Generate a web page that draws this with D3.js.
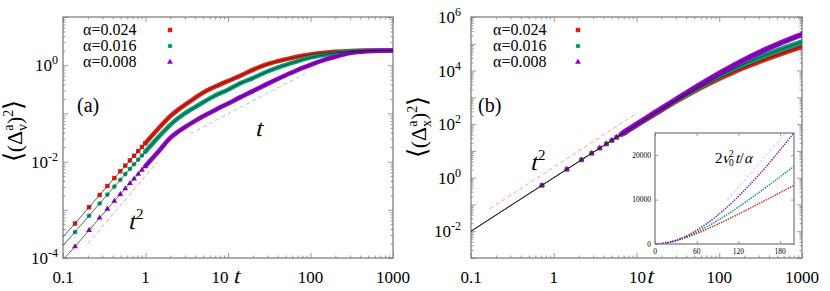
<!DOCTYPE html>
<html>
<head>
<meta charset="utf-8">
<script src="https://cdn.jsdelivr.net/npm/d3@7"></script>
<style>
body{margin:0;background:#fff}
svg{display:block}
</style>
</head>
<body>
<svg width="830" height="291"></svg>
<script>
// ---------- data ----------
var alphaLabels = ['α=0.024', 'α=0.016', 'α=0.008'];

// panel (a): velocity increments, early single markers
var tMarkV = [0.14, 0.207, 0.278, 0.345, 0.419, 0.495, 0.569, 0.648, 0.727, 0.817, 0.905, 0.994];
var redMarkV = [5.2e-4, 1.13e-3, 2.03e-3, 3.11e-3, 4.55e-3, 6.3e-3, 8.26e-3, 1.06e-2, 1.32e-2, 1.65e-2, 2.01e-2, 2.4e-2];
var greenMarkV = [3.47e-4, 7.5e-4, 1.35e-3, 2.07e-3, 3.03e-3, 4.2e-3, 5.5e-3, 7.1e-3, 8.8e-3, 1.1e-2, 1.34e-2, 1.6e-2];
var purpleMarkV = [1.73e-4, 3.77e-4, 6.8e-4, 1.04e-3, 1.52e-3, 2.1e-3, 2.75e-3, 3.53e-3, 4.4e-3, 5.5e-3, 6.7e-3, 8.0e-3];

// panel (a): full curves (dense markers + theory line)
var tCurveV = [0.1, 0.14, 0.2, 0.3, 0.5, 0.7, 1, 1.5, 2, 2.5, 3, 4, 5, 7, 10, 14, 20, 30, 45, 60, 80, 100, 150, 200, 300, 500, 700, 1000];
var redV = [2.75e-4, 5.2e-4, 1.06e-3, 2.36e-3, 6.4e-3, 1.23e-2, 2.43e-2, 0.053, 0.088, 0.12, 0.15, 0.21, 0.27, 0.36, 0.47, 0.6, 0.8, 1.05, 1.27, 1.42, 1.57, 1.67, 1.82, 1.9, 1.98, 2.02, 2.03, 2.03];
var greenV = [1.83e-4, 3.47e-4, 7.07e-4, 1.57e-3, 4.27e-3, 8.2e-3, 1.62e-2, 0.035, 0.058, 0.08, 0.1, 0.135, 0.17, 0.235, 0.31, 0.42, 0.54, 0.74, 0.96, 1.12, 1.3, 1.45, 1.65, 1.78, 1.92, 2.0, 2.02, 2.03];
var purpleV = [9.2e-5, 1.73e-4, 3.53e-4, 7.9e-4, 2.13e-3, 4.1e-3, 8.1e-3, 0.0177, 0.031, 0.042, 0.052, 0.07, 0.087, 0.118, 0.16, 0.215, 0.29, 0.41, 0.57, 0.71, 0.88, 1.02, 1.3, 1.5, 1.78, 1.95, 2.0, 2.02];

// panel (a) guide lines
var t2RefT = [0.2, 1.4], t2RefV = [2.0e-4, 9.8e-3];
var tRefT = [3.5, 90], tRefV = [0.038, 0.7];

// panel (b): position displacement, early single markers
var tMarkX = [0.72, 1.44, 2.16, 2.88, 3.6, 4.32, 5.04, 5.76, 6.48, 7.2];
var redMarkX = [0.515, 2.05, 4.59, 8.1, 12.6, 18.0, 24.4, 31.7, 39.8, 48.8];
var greenMarkX = [0.516, 2.058, 4.61, 8.17, 12.71, 18.23, 24.72, 32.16, 40.54, 49.85];
var purpleMarkX = [0.517, 2.065, 4.64, 8.23, 12.83, 18.45, 25.06, 32.67, 41.26, 50.84];

// panel (b): full curves
var tCurveX = [0.1, 0.2, 0.5, 1, 2, 3, 5, 7, 10, 15, 20, 30, 50, 70, 100, 150, 200, 300, 500, 700, 1000];
var redX = [0.01, 0.04, 0.249, 0.992, 3.94, 8.78, 24.0, 46.4, 92.5, 200, 343, 718, 1740, 3008, 5176, 9122, 13223, 21528, 38194, 54861, 79861];
var greenX = [0.01, 0.04, 0.249, 0.995, 3.96, 8.86, 24.35, 47.2, 94.9, 207.6, 359, 772, 1948, 3487, 6265, 11646, 17506, 29751, 54690, 79688, 117188];
var purpleX = [0.01, 0.04, 0.25, 0.997, 3.98, 8.93, 24.67, 48.1, 97.4, 216, 379.5, 830, 2197, 4100, 7790, 15663, 25060, 46585, 94320, 143865, 218760];

// panel (b) guide line and inset asymptote
var x2RefT = [0.17, 9.6], x2RefV = [0.07, 230];
var insetRefT = [104, 188], insetRefV = [9900, 25000];

// tick labels
var xTickVals = [0.1, 1, 10, 100, 1000];
var xTickText = ['0.1', '1', '10', '100', '1000'];
var yExpV = [-4, -2, 0];
var yExpX = [-2, 0, 2, 4, 6];
var insetXTicks = [0, 60, 120, 180];
var insetYTicks = [0, 10000, 20000];

// ---------- drawing ----------
var svg = d3.select('svg');
var red = '#e51e10', green = '#009e73', purple = '#9400d3';
var frameCol = '#808080';

var xV = d3.scaleLog().domain([0.1, 1000]).range([63, 393]);
var yV = d3.scaleLog().domain([1e-4, 10]).range([258, 17]);
var xX = d3.scaleLog().domain([0.1, 1000]).range([471, 802]);
var yX = d3.scaleLog().domain([1e-3, 1e6]).range([258, 17]);
var xI = d3.scaleLinear().domain([0, 200]).range([655, 794]);
var yI = d3.scaleLinear().domain([0, 25000]).range([244, 133]);

function logTicks(lo, hi) {
    var major = [], minor = [];
    for (var e = lo; e <= hi; e++) {
        major.push(Math.pow(10, e));
        if (e < hi) for (var m = 2; m < 10; m++) minor.push(m * Math.pow(10, e));
    }
    return {major: major, minor: minor};
}

// inward ticks on all four sides + grey frame
function frame(x, y, xt, yt, big, small) {
    var g = svg.append('g');
    var xr = x.range(), yr = y.range();
    [[xt.major, big], [xt.minor, small]].forEach(function(s) {
        g.append('g').attr('transform', 'translate(0,' + yr[0] + ')')
            .call(d3.axisBottom(x).tickValues(s[0]).tickSizeInner(-s[1]).tickSizeOuter(0).tickFormat(''));
        g.append('g').attr('transform', 'translate(0,' + yr[1] + ')')
            .call(d3.axisTop(x).tickValues(s[0]).tickSizeInner(-s[1]).tickSizeOuter(0).tickFormat(''));
    });
    [[yt.major, big], [yt.minor, small]].forEach(function(s) {
        g.append('g').attr('transform', 'translate(' + xr[0] + ',0)')
            .call(d3.axisLeft(y).tickValues(s[0]).tickSizeInner(-s[1]).tickSizeOuter(0).tickFormat(''));
        g.append('g').attr('transform', 'translate(' + xr[1] + ',0)')
            .call(d3.axisRight(y).tickValues(s[0]).tickSizeInner(-s[1]).tickSizeOuter(0).tickFormat(''));
    });
    g.selectAll('.domain').remove();
    g.selectAll('.tick text').remove();
    g.selectAll('.tick line').attr('stroke', frameCol).attr('stroke-width', 0.8);
    g.append('rect').attr('x', xr[0]).attr('y', yr[1])
        .attr('width', xr[1] - xr[0]).attr('height', yr[0] - yr[1])
        .attr('fill', 'none').attr('stroke', frameCol).attr('stroke-width', 1.3);
}

function clip(id, x, y) {
    svg.append('clipPath').attr('id', id).append('rect')
        .attr('x', x.range()[0]).attr('y', y.range()[1])
        .attr('width', x.range()[1] - x.range()[0]).attr('height', y.range()[0] - y.range()[1]);
}
clip('clipA', xV, yV);
clip('clipB', xX, yX);

function pairs(ts, vs) {
    return ts.map(function(t, i) { return [t, vs[i]]; });
}

var symSquare = d3.symbol(d3.symbolSquare, 20);
var symCircle = d3.symbol(d3.symbolCircle, 17);
var symTri = d3.symbol(d3.symbolTriangle, 15);

function series(g, x, y, ts, vs, mt, mv, tBand, col, sym, bandW) {
    var line = d3.line().x(function(d) { return x(d[0]); }).y(function(d) { return y(d[1]); }).curve(d3.curveMonotoneX);
    var band = pairs(ts, vs).filter(function(d) { return d[0] >= tBand; });
    g.append('path').datum(band).attr('d', line)
        .attr('fill', 'none').attr('stroke', col).attr('stroke-width', bandW).attr('stroke-linecap', 'round');
    g.selectAll(null).data(pairs(mt, mv)).enter().append('path')
        .attr('d', sym)
        .attr('transform', function(d) { return 'translate(' + x(d[0]) + ',' + y(d[1]) + ')'; })
        .attr('fill', col);
}

function theory(g, x, y, ts, vs) {
    var line = d3.line().x(function(d) { return x(d[0]); }).y(function(d) { return y(d[1]); }).curve(d3.curveMonotoneX);
    g.append('path').datum(pairs(ts, vs)).attr('d', line)
        .attr('fill', 'none').attr('stroke', '#222').attr('stroke-width', 0.7);
}

function guide(g, x, y, ts, vs, col) {
    g.append('line').attr('x1', x(ts[0])).attr('y1', y(vs[0])).attr('x2', x(ts[1])).attr('y2', y(vs[1]))
        .attr('stroke', col).attr('stroke-width', 1).attr('stroke-dasharray', '4,3');
}

// serif italic is not installed, so slant the upright serif glyph
function ital(x, y, size, str) {
    return svg.append('text').attr('transform', 'translate(' + x + ',' + y + ') skewX(-14)')
        .attr('font-size', size).text(str);
}
function plain(x, y, size, str) {
    return svg.append('text').attr('x', x).attr('y', y).attr('font-size', size).text(str);
}

// ----- panel (a) -----
frame(xV, yV, logTicks(-1, 3), logTicks(-4, 1), 5, 2.5);
var gA = svg.append('g').attr('clip-path', 'url(#clipA)');
guide(gA, xV, yV, t2RefT, t2RefV, '#f4a3a3');
guide(gA, xV, yV, tRefT, tRefV, '#aec3ea');
series(gA, xV, yV, tCurveV, redV, tMarkV, redMarkV, 0.99, red, symSquare, 4.5);
series(gA, xV, yV, tCurveV, greenV, tMarkV, greenMarkV, 0.99, green, symCircle, 4.5);
series(gA, xV, yV, tCurveV, purpleV, tMarkV, purpleMarkV, 0.99, purple, symTri, 4.5);
theory(gA, xV, yV, tCurveV, redV);
theory(gA, xV, yV, tCurveV, greenV);
theory(gA, xV, yV, tCurveV, purpleV);

// ----- panel (b) -----
frame(xX, yX, logTicks(-1, 3), logTicks(-3, 6), 5, 2.5);
var gB = svg.append('g').attr('clip-path', 'url(#clipB)');
guide(gB, xX, yX, x2RefT, x2RefV, '#f4a3a3');
series(gB, xX, yX, tCurveX, redX, tMarkX, redMarkX, 6.5, red, symSquare, 5.5);
series(gB, xX, yX, tCurveX, greenX, tMarkX, greenMarkX, 6.5, green, symCircle, 5.5);
series(gB, xX, yX, tCurveX, purpleX, tMarkX, purpleMarkX, 6.5, purple, symTri, 5.5);
theory(gB, xX, yX, tCurveX, redX);
theory(gB, xX, yX, tCurveX, greenX);
theory(gB, xX, yX, tCurveX, purpleX);

// ----- inset -----
svg.append('rect').attr('x', 655).attr('y', 133).attr('width', 139).attr('height', 111).attr('fill', '#fff');
svg.append('clipPath').attr('id', 'clipI').append('rect').attr('x', 655).attr('y', 133).attr('width', 139).attr('height', 111);
var gI = svg.append('g').attr('clip-path', 'url(#clipI)');
gI.append('line').attr('x1', xI(insetRefT[0])).attr('y1', yI(insetRefV[0]))
    .attr('x2', xI(insetRefT[1])).attr('y2', yI(insetRefV[1]))
    .attr('stroke', '#aec3ea').attr('stroke-width', 0.9).attr('stroke-dasharray', '3,2');
var insetLine = d3.line().x(function(d) { return xI(d[0]); }).y(function(d) { return yI(d[1]); }).curve(d3.curveMonotoneX);
[[redX, red], [greenX, green], [purpleX, purple]].forEach(function(s) {
    var pts = pairs(tCurveX, s[0]).filter(function(d) { return d[0] <= 200; });
    gI.append('path').datum(pts).attr('d', insetLine).attr('fill', 'none')
        .attr('stroke', s[1]).attr('stroke-width', 1.5).attr('stroke-dasharray', '1.2,1.3');
    gI.append('path').datum(pts).attr('d', insetLine).attr('fill', 'none')
        .attr('stroke', '#333').attr('stroke-opacity', 0.5).attr('stroke-width', 0.5).attr('stroke-dasharray', '3,2');
});
frame(xI, yI, {major: insetXTicks, minor: []}, {major: insetYTicks, minor: []}, 3, 0);
svg.selectAll(null).data(insetXTicks).enter().append('text')
    .attr('x', function(d) { return xI(d); }).attr('y', 254)
    .attr('text-anchor', 'middle').attr('font-size', 7.5).text(function(d) { return d; });
svg.selectAll(null).data(insetYTicks).enter().append('text')
    .attr('x', 651).attr('y', function(d) { return yI(d) + 2.5; })
    .attr('text-anchor', 'end').attr('font-size', 7.5).text(function(d) { return d; });
// 2 v0^2 t / alpha
plain(715, 163, 15, '2');
ital(722, 163, 15, 'v');
plain(729, 157, 9.5, '2');
plain(729, 166, 9.5, '0');
ital(735, 163, 15, 't');
plain(739.5, 163, 15, '/');
ital(744, 163, 15, 'α');

// ----- tick labels -----
function xLabels(x, tShift) {
    xTickVals.forEach(function(v, i) {
        var dx = (v === 10) ? tShift[0] : 0;
        svg.append('text').attr('x', x(v) + dx).attr('y', 283).attr('text-anchor', 'middle')
            .attr('font-size', 17).text(xTickText[i]);
        if (v === 10) ital(x(v) + tShift[1], 283, 22, 't');
    });
}
xLabels(xV, [-8, 5]);
xLabels(xX, [1, 10]);

function yLabels(y, exps, xEnd) {
    exps.forEach(function(e) {
        var t = svg.append('text').attr('x', xEnd).attr('y', y(Math.pow(10, e)) + 6)
            .attr('text-anchor', 'end').attr('font-size', 17);
        t.append('tspan').text('10');
        t.append('tspan').attr('font-size', 12).attr('dy', -7).text(e < 0 ? '-' + (-e) : e);
    });
}
yLabels(yV, yExpV, 58);
yLabels(yX, yExpX, 461);

// ----- y titles -----
function yTitle(cx, cy, sub) {
    var t = svg.append('text').attr('transform', 'translate(' + cx + ',' + cy + ') rotate(-90)')
        .attr('text-anchor', 'middle').attr('font-size', 22);
    t.append('tspan').attr('font-size', 26).text('⟨');
    t.append('tspan').text('(Δ');
    t.append('tspan').attr('font-size', 14).attr('dy', -9).text('a');
    t.append('tspan').attr('font-size', 14).attr('dx', -6.5).attr('dy', 14).text(sub);
    t.append('tspan').attr('dy', -5).text(')');
    t.append('tspan').attr('font-size', 14).attr('dy', -9).text('2');
    t.append('tspan').attr('font-size', 26).attr('dy', 9).text('⟩');
}
yTitle(22, 131, 'v');
yTitle(426, 127, 'x');

// ----- legends -----
function legend(x0, mx) {
    var syms = [symSquare, symCircle, symTri], cols = [red, green, purple];
    alphaLabels.forEach(function(s, i) {
        svg.append('text').attr('x', x0).attr('y', 35 + i * 16).attr('font-size', 16).text(s);
        svg.append('path').attr('d', syms[i]).attr('fill', cols[i])
            .attr('transform', 'translate(' + mx + ',' + (30 + i * 16) + ')');
    });
}
legend(83, 170);
legend(493, 578);

// ----- annotations -----
plain(77, 112, 20, '(a)');
plain(478, 112, 20, '(b)');
ital(255, 136, 24, 't');
function tSquared(x, y) {
    ital(x, y, 24, 't');
    plain(x + 8, y - 10, 15, '2');
}
tSquared(128, 229);
tSquared(530, 170);

// every label in the serif face
svg.selectAll('text').style('font-family', "'Liberation Serif'").attr('fill', '#000');
</script>
</body>
</html>
